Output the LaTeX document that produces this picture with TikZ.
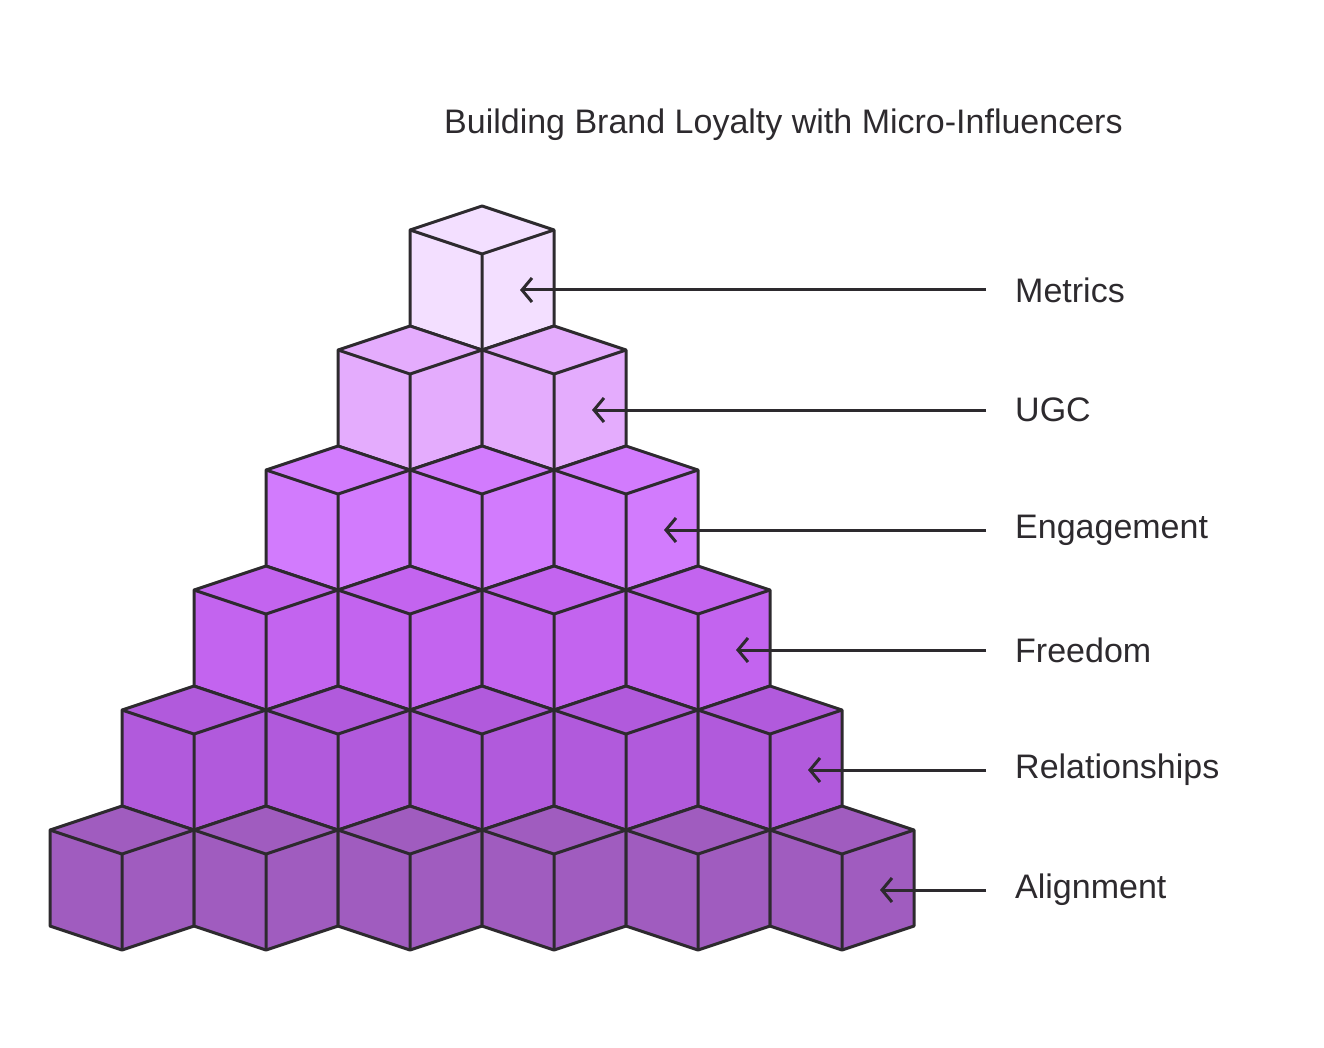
\documentclass[tikz,border=0pt]{standalone}
\usepackage{fontspec}
\setmainfont{Liberation Sans}
\usetikzlibrary{arrows.meta}
\definecolor{ln}{HTML}{2D2A2E}
\definecolor{c0}{HTML}{A05CBF}
\definecolor{c1}{HTML}{B15ADC}
\definecolor{c2}{HTML}{C364EF}
\definecolor{c3}{HTML}{D27BFD}
\definecolor{c4}{HTML}{E4ACFD}
\definecolor{c5}{HTML}{F3DFFF}
\tikzset{edge/.style={draw=ln,line width=3pt,line join=round},
lbl/.style={anchor=west,text=ln,font=\fontsize{34}{40}\selectfont,inner sep=0pt},
arr/.style={draw=ln,line width=3pt,-{Straight Barb[length=10pt,width=24pt,line width=3pt]}}}
\begin{document}
\begin{tikzpicture}[x=1pt,y=-1pt]
\useasboundingbox (0,0) rectangle (1324,1048);
\foreach \k/\col in {5/c5,4/c4,3/c3,2/c2,1/c1,0/c0}{
  \pgfmathtruncatemacro{\n}{5-\k}
  \foreach \i in {0,...,\n}{
    \pgfmathsetmacro{\cx}{122+72*\k+144*\i}
    \pgfmathsetmacro{\ty}{806-120*\k}
    \fill[\col] (\cx,\ty) -- (\cx+72,\ty+24) -- (\cx+72,\ty+120) -- (\cx,\ty+144) -- (\cx-72,\ty+120) -- (\cx-72,\ty+24) -- cycle;
    \draw[edge] (\cx,\ty) -- (\cx+72,\ty+24) -- (\cx+72,\ty+120) -- (\cx,\ty+144) -- (\cx-72,\ty+120) -- (\cx-72,\ty+24) -- cycle;
    \draw[edge] (\cx-72,\ty+24) -- (\cx,\ty+48) -- (\cx+72,\ty+24) (\cx,\ty+48) -- (\cx,\ty+144);
  }
}
\node[anchor=base west,text=ln,font=\fontsize{34}{40}\selectfont,inner sep=0pt] (title) at (444,134) {Building Brand Loyalty with Micro-Influencers};
\foreach \t/\y/\tip/\nm in {Metrics/290/520/a,UGC/410/592/b,Engagement/530/664/c,Freedom/650/736/d,Relationships/770/808/e,Alignment/890/880/f}{
  \node[lbl] (\nm) at (1015,\y) {\t};
  \coordinate (\nm t) at (\tip,\y);
  \coordinate (\nm s) at (986,\y);
  \draw[arr] (\nm s) -- (\nm t);
}
\end{tikzpicture}
\end{document}
